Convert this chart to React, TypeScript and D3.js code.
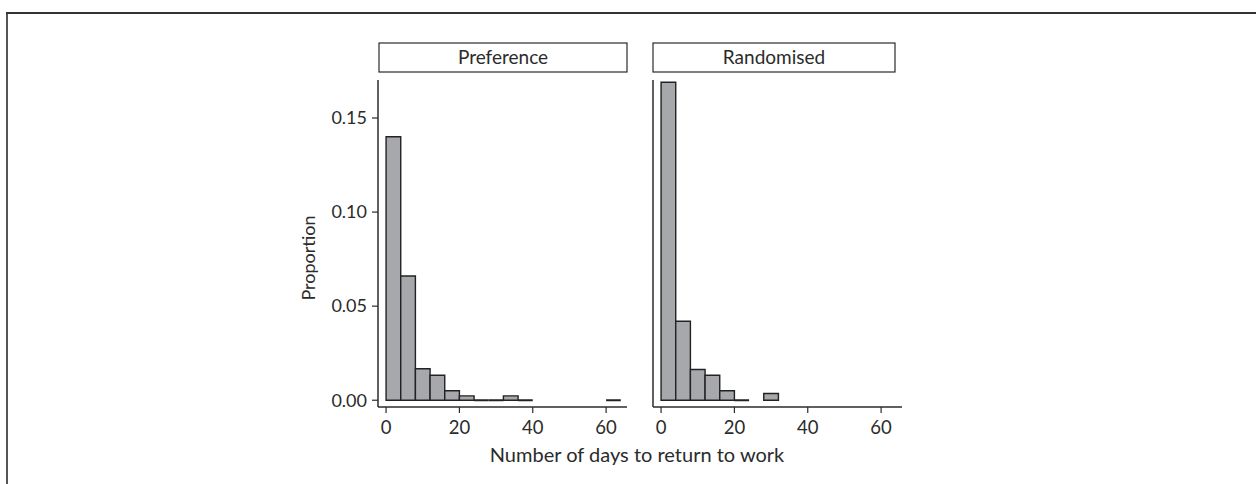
import React from "react";
import * as d3 from "d3";

// Histogram bins: 4-day width, from 0 to 64 days
const binEdges = [0, 4, 8, 12, 16, 20, 24, 28, 32, 36, 40, 44, 48, 52, 56, 60, 64];

// Proportion per bin (null = bin not drawn)
const preferenceValues: (number | null)[] = [
  0.14, 0.066, 0.0167, 0.0133, 0.005, 0.0023, 0, 0, 0.0023, 0,
  null, null, null, null, null, 0,
];
const randomisedValues: (number | null)[] = [
  0.169, 0.042, 0.0163, 0.0133, 0.005, 0, null, 0.0036, null, null,
  null, null, null, null, null, null,
];

const panelTitles = ["Preference", "Randomised"];
const xTicks = [0, 20, 40, 60];
const yTicks = [0, 0.05, 0.1, 0.15];
const xTitle = "Number of days to return to work";
const yTitle = "Proportion";

const W = 1256;
const H = 484;
const FONT = "Lato, 'Open Sans', sans-serif";
const INK = "#2b2b2b";

const y = d3.scaleLinear().domain([-0.0036, 0.1702]).range([407, 80]);

const panels = [
  { title: panelTitles[0], values: preferenceValues, range: [378, 627], strip: [379, 627] },
  { title: panelTitles[1], values: randomisedValues, range: [653, 902], strip: [653, 895] },
];

// Closed outline of one bar; a path so that zero-height bins still show as a stroke
function barPath(x0: number, x1: number, top: number, base: number) {
  const p = d3.path();
  p.moveTo(x0, base);
  p.lineTo(x0, top);
  p.lineTo(x1, top);
  p.lineTo(x1, base);
  p.closePath();
  return p.toString();
}

function Panel({ p, showY }: { p: (typeof panels)[number]; showY: boolean }) {
  const x = d3.scaleLinear().domain([-2.2, 65.7]).range(p.range as [number, number]);
  const [y0, y1] = y.range();
  return (
    <g>
      {/* strip header */}
      <rect x={p.strip[0]} y={43} width={p.strip[1] - p.strip[0]} height={29}
        fill="#fff" stroke={INK} strokeWidth={1.2} />
      <text x={(p.strip[0] + p.strip[1]) / 2} y={64} textAnchor="middle"
        fontFamily={FONT} fontSize={19} fill={INK}>{p.title}</text>

      {/* bars */}
      {p.values.map((v, i) =>
        v === null ? null : (
          <path key={i}
            d={barPath(x(binEdges[i]), x(binEdges[i + 1]), y(v), y(0))}
            fill="#a7a8ab" stroke="#222" strokeWidth={v === 0 ? 2.2 : 1.4} />
        )
      )}

      {/* axes */}
      <line x1={p.range[0]} x2={p.range[1]} y1={y0} y2={y0} stroke={INK} strokeWidth={1.5} />
      <line x1={p.range[0]} x2={p.range[0]} y1={y0} y2={y1} stroke={INK} strokeWidth={1.5} />
      {xTicks.map((t) => (
        <g key={t}>
          <line x1={x(t)} x2={x(t)} y1={y0} y2={y0 + 6} stroke={INK} strokeWidth={1.2} />
          <text x={x(t)} y={y0 + 27} textAnchor="middle" fontFamily={FONT}
            fontSize={18.5} fill={INK}>{t}</text>
        </g>
      ))}
      {showY && yTicks.map((t) => (
        <g key={t}>
          <line x1={p.range[0] - 6} x2={p.range[0]} y1={y(t)} y2={y(t)} stroke={INK} strokeWidth={1.2} />
          <text x={p.range[0] - 11} y={y(t)} dy="0.35em" textAnchor="end" fontFamily={FONT}
            fontSize={18} fill={INK}>{t.toFixed(2)}</text>
        </g>
      ))}
    </g>
  );
}

export default function App() {
  return (
    <svg width={W} height={H} style={{ position: "absolute", left: 0, top: 0, background: "#fff" }}>
      <rect width={W} height={H} fill="#fff" />
      {/* outer frame */}
      <line x1={7} x2={7} y1={13} y2={H} stroke="#555" strokeWidth={2} />
      <line x1={6} x2={W} y1={13} y2={13} stroke="#333" strokeWidth={2} />

      {panels.map((p, i) => (
        <Panel key={p.title} p={p} showY={i === 0} />
      ))}

      <text x={637} y={462} textAnchor="middle" fontFamily={FONT} fontSize={20} fill={INK}>
        {xTitle}
      </text>
      <text transform="translate(315,258) rotate(-90)" textAnchor="middle" fontFamily={FONT}
        fontSize={18} fill={INK}>{yTitle}</text>
    </svg>
  );
}
